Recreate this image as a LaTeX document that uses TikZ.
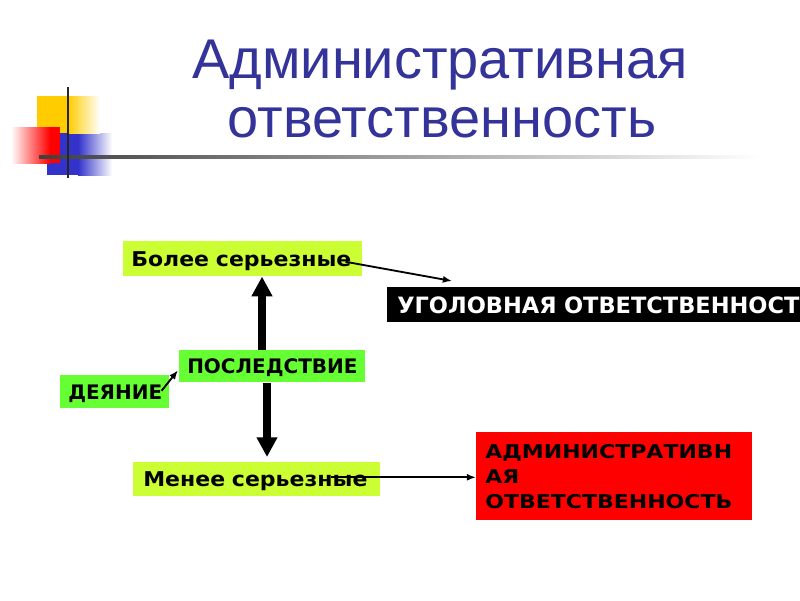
\documentclass[tikz,border=0pt]{standalone}
\usepackage{fontspec}
\setmainfont{DejaVu Sans}
\newfontfamily\titlefont{Liberation Sans}
\newfontfamily\boxfont{DejaVu Sans}
\newfontfamily\boxwide[FakeStretch=1.08]{DejaVu Sans}
\newfontfamily\boxwider[FakeStretch=1.16]{DejaVu Sans}
\usetikzlibrary{arrows.meta,calc}
\definecolor{titleblue}{RGB}{51,51,153}
\definecolor{ygreen}{RGB}{204,255,51}
\definecolor{lgreen}{RGB}{102,255,51}
\definecolor{boxred}{RGB}{255,0,0}
\definecolor{decoyellow}{RGB}{255,204,0}
\definecolor{decoblue}{RGB}{51,51,204}
\definecolor{decored}{RGB}{255,0,0}
\def\pxu{0.025cm}
\tikzset{
  gbox/.style={anchor=north west, inner xsep=8*\pxu, inner ysep=0pt, align=left, text=black},
  oneline/.style={gbox, text depth=0pt},
  smallfont/.style={font=\boxfont\bfseries\fontsize{14.2}{16}\selectfont},
  midfont/.style={font=\boxwide\bfseries\fontsize{14.5}{16}\selectfont},
  bigfont/.style={font=\boxfont\bfseries\fontsize{16}{18}\selectfont},
  redfont/.style={font=\boxwider\bfseries\fontsize{13.5}{17.8}\selectfont},
  titlestyle/.style={anchor=base, text=titleblue, font=\titlefont\fontsize{39.8}{42.7}\selectfont, inner sep=0pt},
  thinarrow/.style={line width=1.3pt, -{Latex[length=6.5pt,width=5pt]}},
  bigarrow/.style={line width=5pt, -{Triangle[length=14pt,width=14pt]}}
}
\begin{document}
\begin{tikzpicture}[x=0.025cm,y=-0.025cm]
\useasboundingbox (0,0) rectangle (800,600);
\clip (0,0) rectangle (800,600);
% decoration
\fill[decoblue] (47,133) rectangle (78,175);
\shade[left color=decoblue, right color=white] (78,133) rectangle (112,175);
\fill[decoyellow] (37,96) rectangle (68,133);
\shade[left color=decoyellow, right color=white] (68,96) rectangle (100,133);
\shade[left color=white, right color=decored] (11,127) rectangle (50,163);
\fill[decored] (50,127) rectangle (60,163);
\shade[left color=black!75, right color=white] (39,155.5) rectangle (760,158.5);
\draw[line width=1.5pt, black!85] (68,87) -- (68,178);
% title
\node[titlestyle] (t1) at (440,78) {Административная};
\node[titlestyle] (t2) at (442,137) {ответственность};
% boxes
\node[oneline, midfont, fill=ygreen, minimum width=239*\pxu, minimum height=35*\pxu, text width=223*\pxu] (b1) at (123,241) {\mbox{Более серьезные}};
\node[oneline, bigfont, fill=black, text=white, minimum width=440*\pxu, minimum height=35*\pxu, text width=424*\pxu, inner xsep=10*\pxu] (ug) at (387,287) {\mbox{УГОЛОВНАЯ ОТВЕТСТВЕННОСТЬ}};
\node[oneline, smallfont, fill=lgreen, minimum width=186*\pxu, minimum height=32*\pxu, text width=170*\pxu] (ps) at (179,350) {\mbox{ПОСЛЕДСТВИЕ}};
\node[oneline, smallfont, fill=lgreen, minimum width=109*\pxu, minimum height=33*\pxu, text width=93*\pxu] (de) at (60,375) {\mbox{ДЕЯНИЕ}};
\node[oneline, midfont, fill=ygreen, minimum width=247*\pxu, minimum height=34*\pxu, text width=227*\pxu, inner xsep=10*\pxu] (me) at (133,462) {\mbox{Менее серьезные}};
\node[gbox, redfont, fill=boxred, minimum width=276*\pxu, minimum height=88*\pxu, text width=258*\pxu, inner xsep=9*\pxu] (adm) at (476,432) {АДМИНИСТРАТИВН\\АЯ\\ОТВЕТСТВЕННОСТЬ};
% connectors
\coordinate (tipA) at (452,281);
\draw[thinarrow] ($(b1.east)+(-17,3)$) -- (tipA);
\coordinate (upx) at (262,0);
\draw[bigarrow] (upx |- ps.north) -- (upx |- b1.south);
\coordinate (dnx) at (267,0);
\draw[bigarrow] (dnx |- ps.south) -- ($(dnx |- me.north)+(0,-5)$);
\draw[thinarrow] ($(de.east)+(-8,-1)$) -- ($(ps.west)+(-1,4)$);
\draw[thinarrow] ($(me.east)+(-50,-2)$) -- ($(adm.west)+(0,1)$);
\end{tikzpicture}
\end{document}
